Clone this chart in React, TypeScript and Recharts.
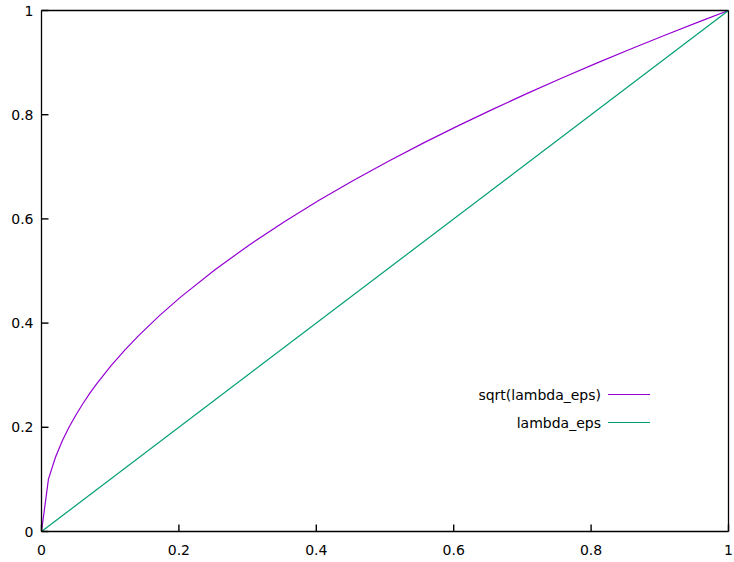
import { LineChart, Line, XAxis, YAxis, Legend } from "recharts";

const lambdaX = [
  0, 0.0101, 0.0202, 0.0303, 0.0404, 0.0505, 0.0606, 0.0707, 0.0808, 0.101,
  0.1212, 0.1414, 0.1717, 0.202, 0.2525, 0.303, 0.3535, 0.404, 0.4545, 0.505,
  0.5556, 0.6061, 0.6566, 0.7071, 0.7576, 0.8081, 0.8586, 0.9091, 0.9596, 1,
];
const sqrtY = [
  0, 0.1005, 0.1421, 0.1741, 0.201, 0.2247, 0.2462, 0.2659, 0.2843, 0.3178,
  0.3481, 0.376, 0.4144, 0.4494, 0.5025, 0.5505, 0.5946, 0.6356, 0.6742, 0.7106,
  0.7454, 0.7785, 0.8103, 0.8409, 0.8704, 0.8989, 0.9266, 0.9535, 0.9796, 1,
];
const linX = [0, 1];
const linY = [0, 1];

const seriesNames = ["sqrt(lambda_eps)", "lambda_eps"];
const xTicks = [0, 0.2, 0.4, 0.6, 0.8, 1];
const yTicks = [0, 0.2, 0.4, 0.6, 0.8, 1];

const sqrtData = lambdaX.map((x, i) => ({ x, y: sqrtY[i] }));
const linData = linX.map((x, i) => ({ x, y: linY[i] }));

const FONT = "'DejaVu Sans', sans-serif";
const TICK = 7;
const TW = 1.4;

// plot frame edges (follow from the margins and axis sizes below)
const W = 734;
const H = 562;
const M_TOP = 9.5;
const M_RIGHT = 4.5;
const X_H = 30.5;
const Y_W = 41.5;
const TOP = M_TOP + 1;
const BOTTOM = H - X_H;
const LEFT = Y_W;
const RIGHT = W - M_RIGHT - 1;

const BottomTick = (p: any) => (
  <g>
    <path d={`M${p.x},${BOTTOM}V${BOTTOM - TICK}`} stroke="#000" strokeWidth={TW} fill="none" />
    <text x={p.x} y={BOTTOM + 23} textAnchor="middle" fontSize={14} fontFamily={FONT} fill="#000">
      {String(p.payload.value)}
    </text>
  </g>
);

const TopTick = (p: any) => (
  <path d={`M${p.x},${TOP}V${TOP + TICK}`} stroke="#000" strokeWidth={TW} fill="none" />
);

const LeftTick = (p: any) => (
  <g>
    <path d={`M${LEFT},${p.y}H${LEFT + TICK}`} stroke="#000" strokeWidth={TW} fill="none" />
    <text x={LEFT - 8} y={p.y + 5} textAnchor="end" fontSize={14} fontFamily={FONT} fill="#000">
      {String(p.payload.value)}
    </text>
  </g>
);

const RightTick = (p: any) => (
  <path d={`M${RIGHT},${p.y}H${RIGHT - TICK}`} stroke="#000" strokeWidth={TW} fill="none" />
);

const KeyBox = (props: any) => {
  const items = props.payload || [];
  const ordered = seriesNames
    .map((n) => items.find((it: any) => it.value === n))
    .filter(Boolean);
  return (
    <svg width={200} height={60} style={{ display: "block" }}>
      {ordered.map((it: any, i: number) => (
        <g key={i}>
          <text
            x={141}
            y={20 + i * 28}
            textAnchor="end"
            fontSize={14}
            fontFamily={FONT}
            fill="#000"
          >
            {it.value}
          </text>
          <line x1={148} x2={190} y1={14.5 + i * 28} y2={14.5 + i * 28} stroke={it.color} strokeWidth={1.2} />
        </g>
      ))}
    </svg>
  );
};

const axisStroke = { stroke: "#000", strokeWidth: 1.3 };

export default function App() {
  return (
    <div style={{ position: "absolute", left: 0, top: 0, background: "#fff" }}>
      <LineChart
        width={W}
        height={H}
        margin={{ top: M_TOP, right: M_RIGHT, bottom: 0, left: 0 }}
      >
        <XAxis
          dataKey="x"
          type="number"
          domain={[0, 1]}
          ticks={xTicks}
          interval={0}
          height={X_H}
          tickSize={0}
          tickMargin={0}
          tickLine={false}
          tick={BottomTick}
          axisLine={axisStroke}
          allowDataOverflow
        />
        <XAxis
          xAxisId="top"
          orientation="top"
          type="number"
          domain={[0, 1]}
          ticks={xTicks}
          interval={0}
          height={1}
          tickSize={0}
          tickMargin={0}
          tickLine={false}
          tick={TopTick}
          axisLine={axisStroke}
        />
        <YAxis
          type="number"
          domain={[0, 1]}
          ticks={yTicks}
          interval={0}
          width={Y_W}
          tickSize={0}
          tickMargin={0}
          tickLine={false}
          tick={LeftTick}
          axisLine={axisStroke}
          allowDataOverflow
        />
        <YAxis
          yAxisId="right"
          orientation="right"
          type="number"
          domain={[0, 1]}
          ticks={yTicks}
          interval={0}
          width={1}
          tickSize={0}
          tickMargin={0}
          tickLine={false}
          tick={RightTick}
          axisLine={axisStroke}
        />
        <Legend
          layout="vertical"
          align="center"
          verticalAlign="middle"
          content={KeyBox}
          wrapperStyle={{ position: "absolute", left: 460, top: 380, width: 200, height: 60 }}
        />
        <Line
          data={sqrtData}
          dataKey="y"
          name={seriesNames[0]}
          stroke="#9400d3"
          strokeWidth={1.2}
          dot={false}
          type="linear"
          isAnimationActive={false}
        />
        <Line
          data={linData}
          dataKey="y"
          name={seriesNames[1]}
          stroke="#009e73"
          strokeWidth={1.2}
          dot={false}
          type="linear"
          isAnimationActive={false}
        />
      </LineChart>
    </div>
  );
}
